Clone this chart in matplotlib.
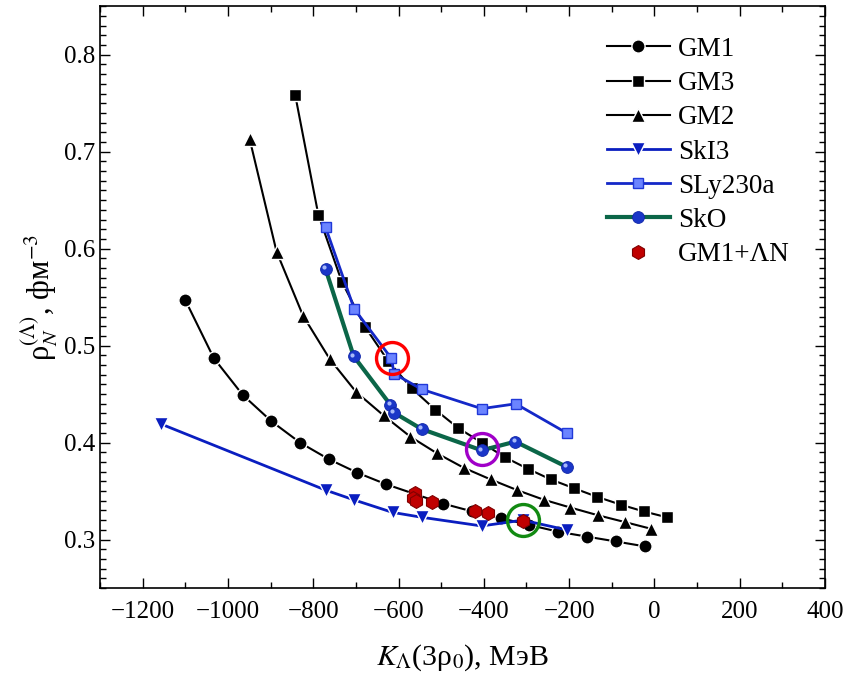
import matplotlib
matplotlib.use("Agg")
import matplotlib.pyplot as plt
from matplotlib.ticker import MultipleLocator
from matplotlib.transforms import offset_copy

plt.rcParams["font.family"] = ["Liberation Serif", "DejaVu Serif"]
plt.rcParams["mathtext.fontset"] = "stix"

# K_Lambda(3 rho0), MeV  vs  rho_N^(Lambda), fm^-3
gm1_k = [-1100, -1033, -965, -898, -831, -764, -697, -629, -562, -495, -427, -360, -293, -225, -158, -90, -23]
gm1_rho = [0.547, 0.487, 0.449, 0.422, 0.400, 0.383, 0.369, 0.357, 0.347, 0.337, 0.329, 0.322, 0.315, 0.308, 0.303, 0.298, 0.293]

gm3_k = [-842, -788, -733, -678, -624, -569, -514, -460, -405, -351, -297, -243, -189, -134, -79, -25, 29]
gm3_rho = [0.758, 0.635, 0.566, 0.519, 0.484, 0.456, 0.434, 0.415, 0.400, 0.385, 0.373, 0.362, 0.353, 0.344, 0.336, 0.329, 0.323]

gm2_k = [-949, -886, -824, -761, -699, -635, -572, -510, -447, -384, -322, -259, -197, -132, -69, -7]
gm2_rho = [0.713, 0.597, 0.531, 0.486, 0.452, 0.428, 0.406, 0.389, 0.374, 0.362, 0.351, 0.341, 0.333, 0.325, 0.318, 0.311]

ski3_k = [-1156, -771, -705, -614, -546, -405, -309, -206]
ski3_rho = [0.419, 0.351, 0.341, 0.328, 0.323, 0.314, 0.320, 0.310]

sly_k = [-771, -704, -617, -610, -546, -405, -325, -206]
sly_rho = [0.622, 0.538, 0.487, 0.471, 0.455, 0.435, 0.440, 0.410]

sko_k = [-771, -705, -619, -611, -546, -405, -326, -206]
sko_rho = [0.579, 0.489, 0.439, 0.431, 0.414, 0.392, 0.401, 0.375]

ln_k = [-562, -566, -560, -521, -420, -390, -309]
ln_rho = [0.348, 0.343, 0.340, 0.339, 0.329, 0.327, 0.319]

# highlighted points (ring colour, k, rho)
ring_cols = ["#ff0000", "#a000c8", "#128a12"]
ring_k = [-616, -405, -309]
ring_rho = [0.487, 0.393, 0.320]

fig = plt.figure(figsize=(8.43, 6.82), dpi=100)
ax = fig.add_axes([0.1186, 0.1378, 0.86, 0.853])

gap = dict(markeredgecolor="white", markeredgewidth=1.0)
ax.plot(gm1_k, gm1_rho, "-o", color="black", lw=1.5, ms=9.5, label="GM1", **gap)
ax.plot(gm3_k, gm3_rho, "-s", color="black", lw=1.5, ms=8.5, label="GM3", **gap)
ax.plot(gm2_k, gm2_rho, "-^", color="black", lw=1.5, ms=10, label="GM2", **gap)
ax.plot(ski3_k, ski3_rho, "-v", color="#0a1ec0", lw=2, ms=10, label="SkI3", **gap)
ax.plot(sly_k, sly_rho, "-s", color="#1428c8", lw=2, ms=7, mfc="#6b84ff",
        mec="#2038d8", mew=1.0, label="SLy230a")
ax.plot(sko_k, sko_rho, "-o", color="#0b6648", lw=3, ms=8.5, mfc="#1a36c8",
        mec="#1026a8", mew=0.6, label="SkO")
hl = offset_copy(ax.transData, fig=fig, x=-1.2, y=1.2, units="points")
ax.plot(sko_k, sko_rho, "o", ms=3, color="#b8c8ff", mew=0, alpha=0.9, transform=hl)
ax.plot(ln_k, ln_rho, "h", ls="none", ms=10, mfc="#c00000", mec="#800000", mew=0.8,
        label="GM1+ΛN")

for c, k, r in zip(ring_cols, ring_k, ring_rho):
    ax.plot([k], [r], "o", ms=23, mfc="none", mec=c, mew=2.4, zorder=6)

ax.set_xlim(-1300, 400)
ax.set_ylim(0.25, 0.85)
ax.xaxis.set_major_locator(MultipleLocator(200))
ax.xaxis.set_minor_locator(MultipleLocator(100))
ax.yaxis.set_major_locator(MultipleLocator(0.1))
ax.yaxis.set_minor_locator(MultipleLocator(0.01))
ax.tick_params(which="both", direction="in", top=True, right=True, width=1.0, labelsize=18)
ax.tick_params(which="major", length=7)
ax.tick_params(which="minor", length=4)
ax.tick_params(axis="x", pad=9)
for s in ax.spines.values():
    s.set_linewidth(1.2)

ax.set_xlabel(r"$K_\Lambda$(3ρ$_0$), МэВ", fontsize=21.5, labelpad=14)
ax.set_ylabel(r"ρ$_N^{(\Lambda)}$, фм$^{-3}$", fontsize=22, labelpad=2)

ax.legend(loc="upper right", frameon=False, fontsize=19.5, handlelength=2.3,
          labelspacing=0.34, handletextpad=0.3, borderaxespad=0,
          bbox_to_anchor=(0.966, 0.966))

fig.savefig("out.png", dpi=100)
